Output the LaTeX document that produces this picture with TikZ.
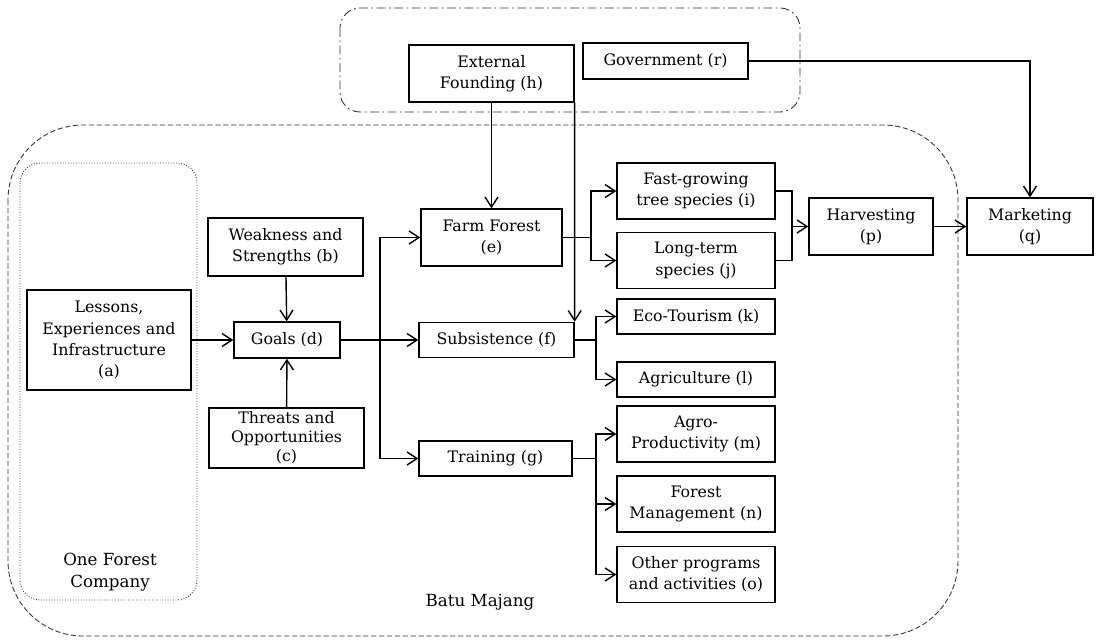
\documentclass[tikz,border=0pt]{standalone}
\usepackage{fontspec}
\setmainfont{DejaVu Serif}
\usepackage{tikz}
\usetikzlibrary{arrows.meta,positioning,calc}
\tikzset{
  block/.style ={rectangle, draw=black, line width=0.8pt, fill=white,
                 align=center, inner sep=1pt,
                 font=\fontsize{9}{12}\selectfont},
  leaf/.style  ={block, minimum width=3.16cm},
  flow/.style  ={-{Straight Barb[length=2mm,width=2.6mm]}, line width=0.8pt},
  link/.style  ={line width=0.8pt},
  zone/.style  ={draw=black!80, line width=0.5pt},
  lbl/.style   ={align=center, font=\fontsize{9.5}{12.5}\selectfont},
}
\begin{document}
\begin{tikzpicture}[x=0.02cm, y=-0.02cm]
    \useasboundingbox (0,0) rectangle (1102,640);

    % regions
    \draw[zone, dash pattern=on 5pt off 2pt on 1pt off 2pt, rounded corners=0.4cm]
        (340,8) rectangle (800,112);
    \draw[zone, dash pattern=on 3pt off 1.5pt, rounded corners=1.5cm]
        (8,125) rectangle (958,636);
    \draw[zone, densely dotted, rounded corners=0.4cm]
        (20,163) rectangle (197,600);
    \node[lbl] (batu) at (480,602) {Batu Majang};
    \node[lbl] (ofc) at (110,572) {One Forest\\Company};

    % left part
    \node[block, minimum width=3.28cm, minimum height=2cm] (a) at (109,340)
        {Lessons,\\Experiences and\\Infrastructure\\(a)};
    \node[block, minimum width=3.1cm, minimum height=1.16cm] (b) at (285.5,247)
        {Weakness and\\Strengths (b)};
    \node[block, minimum width=2.12cm, minimum height=0.72cm] (d) at (287,340)
        {Goals (d)};
    \node[block, minimum width=3.1cm, minimum height=1.2cm, inner sep=0pt,
          font=\fontsize{9}{10.8}\selectfont] (c) at (286.5,438)
        {Threats and\\Opportunities\\(c)};

    % middle part
    \node[block, minimum width=3.3cm, minimum height=1.14cm] (h) at (491.5,73.5)
        {External\\Founding (h)};
    \node[block, minimum width=3.3cm, minimum height=0.72cm] (r) at (665.5,61)
        {Government (r)};
    \node[block, minimum width=2.82cm, minimum height=1.14cm] (e) at (491.5,237.5)
        {Farm Forest\\(e)};
    \node[block, minimum width=3.1cm, minimum height=0.7cm] (f) at (496.5,340)
        {Subsistence (f)};
    \node[block, minimum width=3.06cm, minimum height=0.7cm] (g) at (495.5,458.5)
        {Training (g)};

    % right part
    \node[leaf, minimum height=1.12cm] (i) at (696,191) {Fast-growing\\tree species (i)};
    \node[leaf, minimum height=1.12cm] (j) at (696,260.5) {Long-term\\species (j)};
    \node[leaf, minimum height=0.7cm] (k) at (696,316.5) {Eco-Tourism (k)};
    \node[leaf, minimum height=0.7cm] (l) at (696,379.5) {Agriculture (l)};
    \node[leaf, minimum height=1.12cm] (m) at (696,434) {Agro-\\Productivity (m)};
    \node[leaf, minimum height=1.12cm] (n) at (696,504) {Forest\\Management (n)};
    \node[leaf, minimum height=1.12cm] (o) at (696,574.5) {Other programs\\and activities (o)};
    \node[block, minimum width=2.48cm, minimum height=1.14cm] (p) at (871,226.5)
        {Harvesting\\(p)};
    \node[block, minimum width=2.52cm, minimum height=1.14cm] (q) at (1030,226.5)
        {Marketing\\(q)};

    % branch points
    \coordinate (sd) at (380,340);
    \coordinate (se) at (591,237.5);
    \coordinate (sf) at (596,340);
    \coordinate (sg) at (596,458.5);
    \coordinate (sp) at (792,226.5);

    % connectors
    \draw[flow] (a) -- (d);
    \draw[flow] (b) -- (d);
    \draw[flow] (c) -- (d);
    \draw[flow] (d) -- (f);
    \draw[flow] (sd) |- (e);
    \draw[flow] (sd) |- (g);
    \draw[flow] (h) -- (e);
    \draw[flow] (h.south east) -- (f.north east);
    \draw[link] (e) -- (se);
    \foreach \t in {i,j}
        \draw[flow] (se) |- (\t);
    \draw[link] (f) -- (sf);
    \foreach \t in {k,l}
        \draw[flow] (sf) |- (\t);
    \draw[link] (g) -- (sg);
    \foreach \t in {m,n,o}
        \draw[flow] (sg) |- (\t);
    \draw[link] (i) -| (sp);
    \draw[link] (j) -| (sp);
    \draw[flow] (sp) -- (p);
    \draw[flow] (p) -- (q);
    \draw[flow] (r) -| (q);
\end{tikzpicture}
\end{document}
